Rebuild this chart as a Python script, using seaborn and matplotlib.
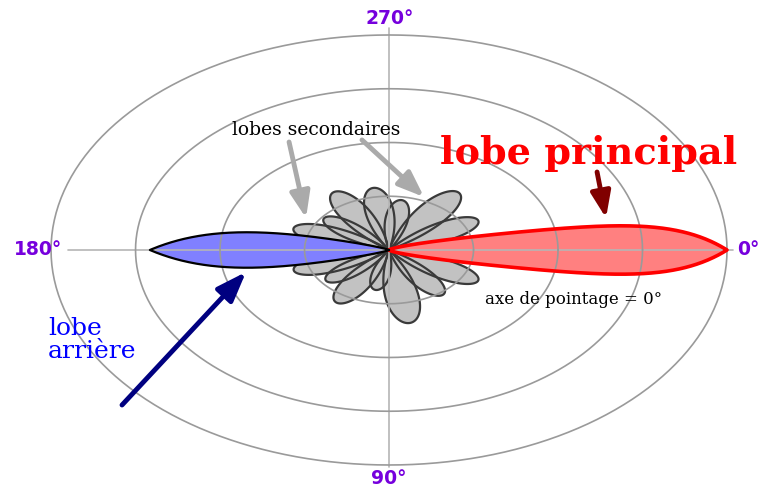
import numpy as np
import pandas as pd
import matplotlib.pyplot as plt
import seaborn as sns

sns.set_theme(style="white")
plt.rcParams['font.family'] = ['DejaVu Sans']

# rings of the polar grid
ring_radii = [1, 2, 3, 4]

# secondary lobes: direction (deg, 90 = bottom) and length (ring units)
side_angles = [29, 53, 80, 102, 122, 142, 161, 200, 218, 239, 261, 279, 307, 332]
side_lengths = [1.20, 1.05, 1.38, 0.76, 1.16, 0.94, 1.19, 1.20, 0.97, 1.26, 1.17, 0.94, 1.35, 1.19]
side_halfwidth = 23  # deg

# main lobe (0 deg) and back lobe (180 deg)
main_length, main_width = 4.0, 0.45
back_length, back_width = 2.83, 0.33

# degree labels
deg_labels = ["0°", "90°", "180°", "270°"]


def to_xy(r, theta_deg):
    t = np.deg2rad(theta_deg)
    return r * np.cos(t), -r * np.sin(t)


def petal(length, theta, half):
    phi = np.linspace(-half, half, 120)
    r = length * np.cos(np.pi / 2 * phi / half)
    return to_xy(r, theta + phi)


def long_lobe(length, width, a, m, direction):
    t = np.linspace(0, 1, 300)
    h = t ** a * (1 - t ** m)
    h = width * h / h.max()
    x = np.concatenate([t, t[::-1]]) * length * direction
    y = np.concatenate([h, -h[::-1]])
    return x, y


fig = plt.figure(figsize=(7.62, 4.88), dpi=100)
ax = fig.add_axes([0, 0, 1, 1])
ax.set_xlim(-4.604, 4.414)
ax.set_ylim(-4.428, 4.651)
ax.axis('off')

# grid rings
th = np.linspace(0, 360, 361)
rings = pd.DataFrame({
    'x': np.concatenate([to_xy(r, th)[0] for r in ring_radii]),
    'y': np.concatenate([to_xy(r, th)[1] for r in ring_radii]),
    'ring': np.repeat(ring_radii, len(th)),
})
sns.lineplot(data=rings, x='x', y='y', units='ring', estimator=None, sort=False,
             color='#9a9a9a', lw=1.2, ax=ax, zorder=2.5)
ax.plot([-3.8, 4.07], [0, 0], color='#b5b5b5', lw=1.2, zorder=2.4)
ax.plot([0, 0], [-4.04, 4.13], color='#b5b5b5', lw=1.2, zorder=2.4)

# secondary lobes
for ang, L in zip(side_angles, side_lengths):
    x, y = petal(L, ang, side_halfwidth)
    ax.fill(x, y, color='#c2c2c2', lw=0, zorder=1)
    ax.plot(np.append(x, x[0]), np.append(y, y[0]), color='#3a3a3a', lw=1.6, zorder=1.5)

# main lobe
x, y = long_lobe(main_length, main_width, 0.7, 6, 1)
ax.fill(x, y, color='#ff8080', lw=0, zorder=2)
ax.plot(x, y, color='#ff0000', lw=2.6, zorder=3)

# back lobe
x, y = long_lobe(back_length, back_width, 0.8, 3, -1)
ax.fill(x, y, color='#8080ff', lw=0, zorder=2)
ax.plot(x, y, color='black', lw=1.6, zorder=3)

# degree labels
purple = '#7600dd'
kw = dict(color=purple, fontsize=13.5, fontweight='bold', va='center')
ax.text(4.39, 0, deg_labels[0], ha='right', **kw)
ax.text(0, -4.242, deg_labels[1], ha='center', **kw)
ax.text(-4.154, 0, deg_labels[2], ha='center', **kw)
ax.text(0.012, 4.316, deg_labels[3], ha='center', **kw)

# annotations
ax.text(-0.864, 2.233, "lobes secondaires", family='DejaVu Serif', fontsize=13.5,
        color='black', ha='center', va='center')
ax.text(2.367, 1.80, "lobe principal", family='DejaVu Serif', fontsize=27.5,
        fontweight='bold', color='#ff0000', ha='center', va='center')
ax.text(-4.036, -1.674, "lobe\narrière", family='DejaVu Serif', fontsize=18,
        color='#0000ff', ha='left', va='center', linespacing=1.0)
ax.text(2.178, -0.912, "axe de pointage = 0°", family='DejaVu Serif', fontsize=12,
        color='black', ha='center', va='center')


def arrow(x0, y0, x1, y1, color, lw, hw, hl):
    ax.annotate('', xy=(x1, y1), xytext=(x0, y0), zorder=4,
                arrowprops=dict(arrowstyle=f'-|>,head_width={hw},head_length={hl}',
                                color=color, lw=lw, shrinkA=0, shrinkB=0))


arrow(-1.183, 2.009, -0.982, 0.595, '#aaaaaa', 3.5, 0.5, 1.3)
arrow(-0.320, 2.047, 0.414, 0.986, '#aaaaaa', 3.5, 0.5, 1.3)
arrow(2.462, 1.451, 2.568, 0.595, '#800000', 3.5, 0.5, 1.3)
arrow(-3.160, -2.884, -1.692, -0.409, '#000080', 3.5, 0.55, 1.5)

fig.savefig('out.png', dpi=100)
